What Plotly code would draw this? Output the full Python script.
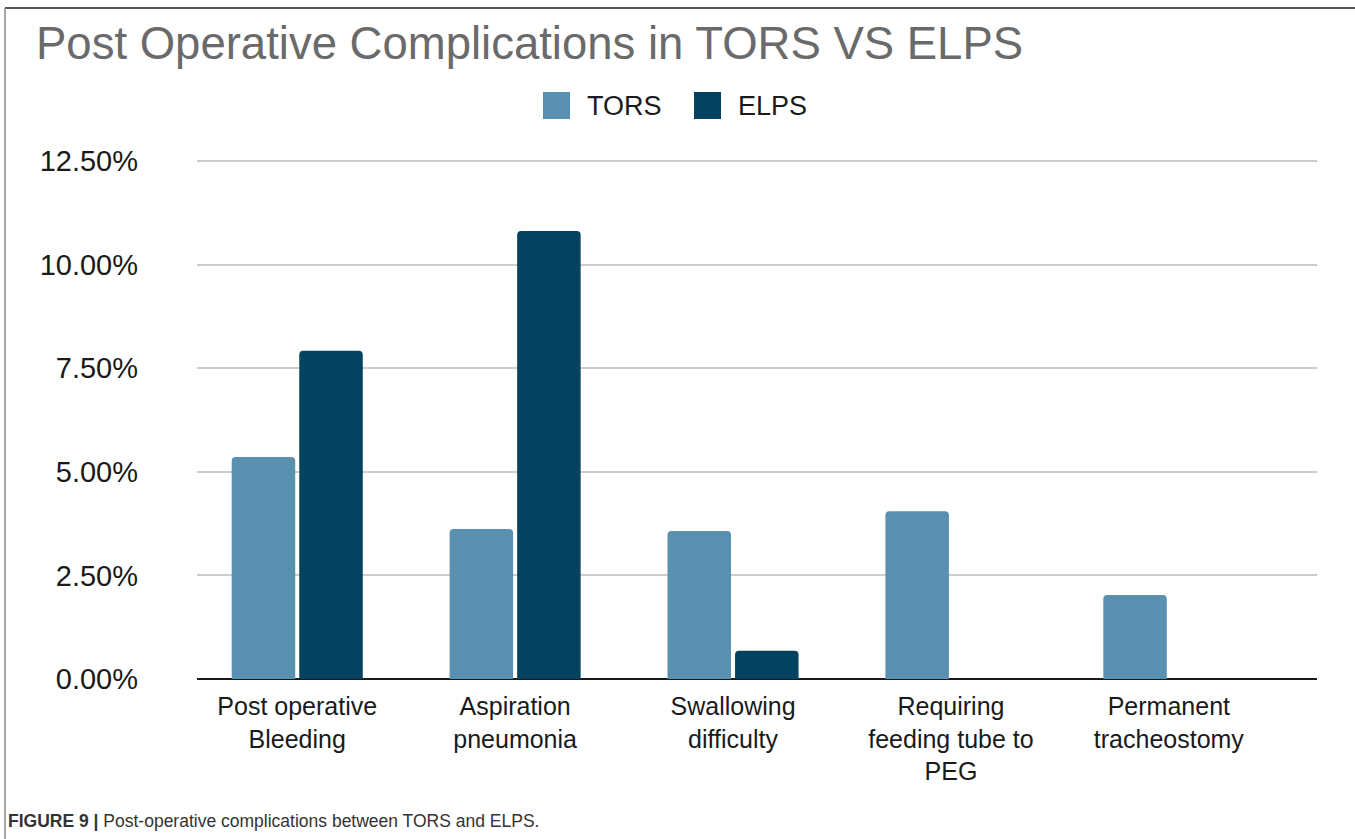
import plotly.graph_objects as go

categories = ["Post operative<br>Bleeding", "Aspiration<br>pneumonia", "Swallowing<br>difficulty",
              "Requiring<br>feeding tube to<br>PEG", "Permanent<br>tracheostomy"]
series_names = ["TORS", "ELPS"]
tors = [0.0536, 0.0362, 0.0357, 0.0405, 0.0203]
elps = [0.0792, 0.1081, 0.0068, 0.0, 0.0]
y_ticks = [0, 0.025, 0.05, 0.075, 0.10, 0.125]

colors = {"TORS": "#5990b0", "ELPS": "#04425f"}

# canvas / plot area in pixels
W, H = 1355, 839
L, R, T, B = 197, 1317, 159, 679
pw, ph = R - L, B - T

def px(x):
    return (x - L) / pw

def py(y):
    return (B - y) / ph

fig = go.Figure()
for name, vals in zip(series_names, [tors, elps]):
    fig.add_trace(go.Bar(
        x=categories, y=vals, name=name,
        marker=dict(color=colors[name], cornerradius=4, line=dict(width=0)),
        showlegend=False,
    ))

shapes = []
annotations = []

# legend drawn by hand, big squares like the original
leg = [(543, 587), (694, 738)]
for (sx, tx), name in zip(leg, series_names):
    shapes.append(dict(type="rect", xref="paper", yref="paper",
                       x0=px(sx), x1=px(sx + 27), y0=py(119), y1=py(92),
                       fillcolor=colors[name], line=dict(width=0)))
    annotations.append(dict(text=name, xref="paper", yref="paper", x=px(tx - 2), y=py(106),
                            xanchor="left", yanchor="middle", showarrow=False,
                            font=dict(size=27, color="#1a1a1a")))

# outer frame (top and left edges)
shapes.append(dict(type="line", xref="paper", yref="paper", x0=px(5), x1=px(1355), y0=py(8), y1=py(8),
                   line=dict(color="#555555", width=2)))
shapes.append(dict(type="line", xref="paper", yref="paper", x0=px(5), x1=px(5), y0=py(8), y1=py(839),
                   line=dict(color="#888888", width=1.5)))

annotations.append(dict(text="Post Operative Complications in TORS VS ELPS", xref="paper", yref="paper",
                        x=px(34), y=py(44), xanchor="left", yanchor="middle", showarrow=False,
                        font=dict(size=45.5, color="#6a6a6a")))
annotations.append(dict(text="<b>FIGURE 9 |</b> Post-operative complications between TORS and ELPS.",
                        xref="paper", yref="paper", x=px(6), y=py(821), xanchor="left", yanchor="middle",
                        showarrow=False, font=dict(size=17.5, color="#333333")))

fig.update_layout(
    width=W, height=H,
    margin=dict(l=L, r=W - R, t=T, b=H - B, pad=0),
    plot_bgcolor="white", paper_bgcolor="white",
    font=dict(family="Liberation Sans, Arial, sans-serif", size=24, color="#1a1a1a"),
    barmode="group", bargap=0.38, bargroupgap=0.06,
    showlegend=False,
    shapes=shapes, annotations=annotations,
)
fig.update_xaxes(range=[-0.46, 4.68], showgrid=False, showline=False, ticks="",
                 ticklabelstandoff=10, tickfont=dict(size=25, color="#1a1a1a"))
fig.update_yaxes(range=[0, 0.1255], tickvals=y_ticks, tickformat=".2%",
                 showgrid=True, gridcolor="#cccccc", gridwidth=2,
                 zeroline=True, zerolinecolor="#1a1a1a", zerolinewidth=2,
                 showline=False, ticks="", ticklabelstandoff=58,
                 tickfont=dict(size=29, color="#1a1a1a"))

fig.write_html("out.html", config={"displayModeBar": False},
               post_script="document.body.style.margin='0';")
